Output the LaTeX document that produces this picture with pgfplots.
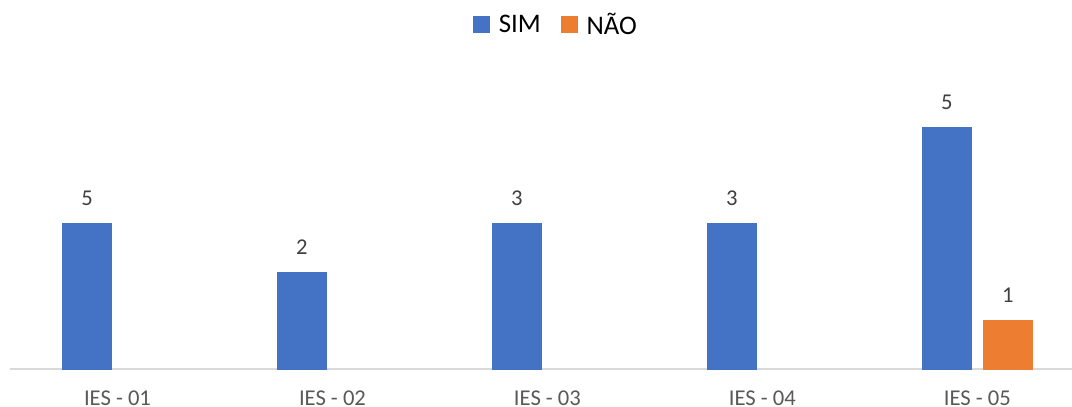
\documentclass[border=0pt]{standalone}
\usepackage{pgfplots}
\pgfplotsset{compat=1.18}
\usepackage{fontspec}
\setmainfont{Carlito}
\definecolor{sim}{HTML}{4472C4}
\definecolor{nao}{HTML}{ED7D31}
\definecolor{axisgray}{HTML}{D9D9D9}
\definecolor{ticktext}{HTML}{595959}
\definecolor{labeltext}{HTML}{404040}
\begin{document}
\begin{tikzpicture}
\path[use as bounding box] (-5pt,-19pt) rectangle (531pt,184.5pt);
\begin{axis}[
  scale only axis,
  width=531pt, height=145.2pt,
  xmin=-0.5, xmax=4.44,
  ymin=0, ymax=6,
  axis lines=none,
  clip=false,
  ybar,
  bar width=24.5pt,
  xtick=\empty, ytick=\empty,
  point meta=explicit symbolic,
  nodes near coords,
  every node near coord/.append style={font=\fontsize{11.3}{13}\selectfont, text=labeltext, inner sep=0pt, anchor=south, yshift=8.7pt},
  legend style={at={(rel axis cs:0.515,1.185)}, anchor=center, draw=none, fill=none,
    legend columns=2, font=\fontsize{13.4}{15}\selectfont, text=black,
    /tikz/every odd column/.append style={column sep=2.5pt},
    /tikz/every even column/.append style={column sep=8pt}},
  legend image code/.code={\fill[#1] (0pt,-4pt) rectangle (8pt,4pt);},
]
\draw[axisgray, line width=0.8pt] (axis cs:-0.5,0) -- (axis cs:4.44,0);
\foreach \i/\n in {0/01,1/02,2/03,3/04,4/05}{
  \edef\tmp{\noexpand\node[anchor=north, inner sep=0pt, text=ticktext, font=\noexpand\fontsize{11.3}{13}\noexpand\selectfont] at (axis cs:\i,0) [yshift=-10.8pt] {IES - \n};}
  \tmp
}
\addplot[fill=sim, draw=sim, bar shift=-15.25pt] coordinates {(0,3) [5] (1,2) [2] (2,3) [3] (3,3) [3] (4,5) [5]};
\addlegendentry{SIM}
\addplot[fill=nao, draw=nao, bar shift=15.25pt] coordinates {(4,1) [1]};
\addlegendentry{NÃO}
\end{axis}
\end{tikzpicture}
\end{document}
